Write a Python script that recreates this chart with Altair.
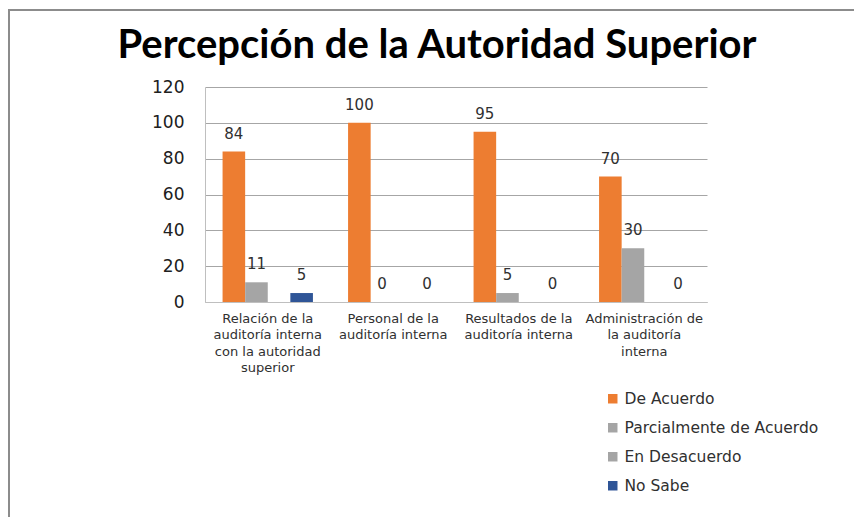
import altair as alt
import pandas as pd

title_text = "Percepción de la Autoridad Superior"
categories = [
    "Relación de la\nauditoría interna\ncon la autoridad\nsuperior",
    "Personal de la\nauditoría interna",
    "Resultados de la\nauditoría interna",
    "Administración de\nla auditoría\ninterna",
]
series = ["De Acuerdo", "Parcialmente de Acuerdo", "En Desacuerdo", "No Sabe"]
de_acuerdo = [84, 100, 95, 70]
parcialmente = [11, 0, 5, 30]
en_desacuerdo = [None, None, None, None]
no_sabe = [5, 0, 0, 0]
colors = ["#ED7D31", "#A5A5A5", "#A5A5A5", "#2F5597"]

rows = []
for s, vals in zip(series, [de_acuerdo, parcialmente, en_desacuerdo, no_sabe]):
    for c, v in zip(categories, vals):
        rows.append({"categoria": c, "serie": s, "valor": v})
df = pd.DataFrame(rows)
title_df = pd.DataFrame({"titulo": [title_text]})

x = alt.X("categoria:N", sort=categories, title=None,
          scale=alt.Scale(paddingInner=0.28, paddingOuter=0.14),
          axis=alt.Axis(labelAngle=0, labelExpr="split(datum.label, '\\n')",
                        labelFont="DejaVu Sans", labelFontSize=13, labelColor="#303030",
                        labelLineHeight=16.5, labelPadding=10, ticks=False, labelLimit=0,
                        domainColor="#BFBFBF", labelBaseline="top"))
xoff = alt.XOffset("serie:N", sort=series, scale=alt.Scale(domain=series, paddingInner=0, paddingOuter=0))
y = alt.Y("valor:Q", title=None,
          scale=alt.Scale(domain=[0, 120]),
          axis=alt.Axis(values=[0, 20, 40, 60, 80, 100, 120], labelFont="DejaVu Sans",
                        labelFontSize=17, labelColor="#202020", ticks=False, labelPadding=21,
                        domainColor="#BFBFBF", gridColor="#A6A6A6", gridWidth=1))
color = alt.Color("serie:N", sort=series,
                  scale=alt.Scale(domain=series, range=colors),
                  legend=alt.Legend(title=None, orient="none", legendX=400, legendY=304,
                                    direction="vertical", symbolType="square", symbolSize=90,
                                    symbolStrokeWidth=0, labelFont="DejaVu Sans", labelFontSize=15.5,
                                    labelColor="#303030", rowPadding=12, labelOffset=4,
                                    labelLimit=0))

base = alt.Chart(df)
bars = base.mark_bar().encode(x=x, xOffset=xoff, y=y, color=color)
labels = base.transform_filter("isValid(datum.valor)").mark_text(
    dy=-10, font="DejaVu Sans", fontSize=15, color="#303030", baseline="bottom"
).encode(x=x, xOffset=xoff, y=y, text=alt.Text("valor:Q"))

# chart title, centred over the chart
title = alt.Chart(title_df).mark_text(
    font="Lato", fontSize=40, fontWeight="bold", color="#000000",
    align="center", baseline="alphabetic", clip=False
).encode(x=alt.value(232), y=alt.value(-29), text=alt.Text("titulo:N"))

# outer frame of the chart (top and left edges)
frame_top = alt.Chart(title_df).mark_rule(color="#8C8C8C", strokeWidth=2, clip=False).encode(
    x=alt.value(-197), x2=alt.value(660), y=alt.value(-77))
frame_left = alt.Chart(title_df).mark_rule(color="#8C8C8C", strokeWidth=2, clip=False).encode(
    x=alt.value(-196), y=alt.value(-77), y2=alt.value(440))

chart = alt.layer(bars, labels, title, frame_top, frame_left).properties(
    width=502, height=215,
    autosize=alt.AutoSizeParams(type="none"),
    padding={"left": 197, "top": 79, "right": 147, "bottom": 215},
).configure_view(stroke=None).configure_axis(gridColor="#A6A6A6")

chart.save("out.html", embed_options={"renderer": "svg", "actions": False})
